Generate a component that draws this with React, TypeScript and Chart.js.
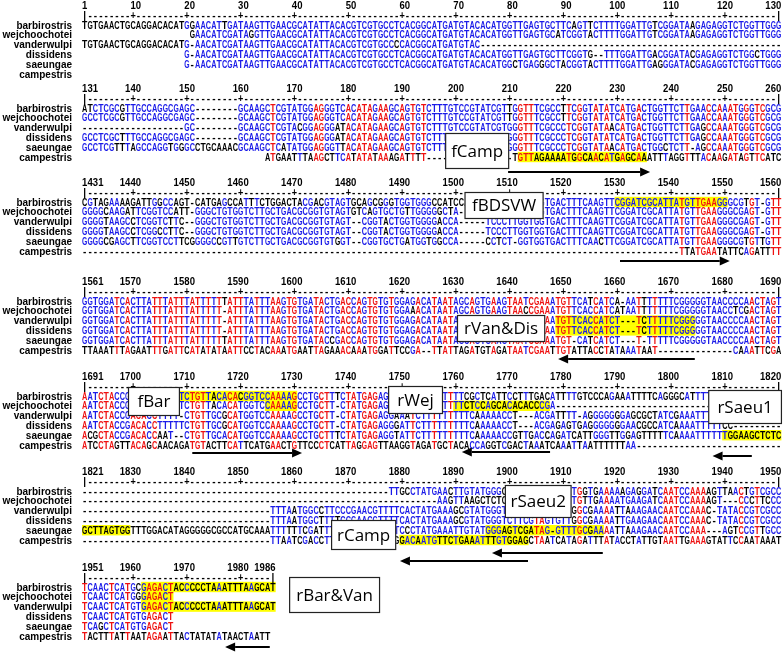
import React, { useEffect, useRef } from "react";
import { Chart, registerables } from "chart.js";

Chart.register(...registerables);

// ---------- DATA ----------
const D10 = "----------";
const E10 = "..........";

const SPECIES = ["barbirostris", "wejchoochotei", "vanderwulpi", "dissidens", "saeungae", "campestris"];

const B1_ROWS = [
  "TGTGAACTGCAGGACACATG" + "GAACATTGATAAGTTGAACGCATATTACACGTCGTGC" + "CTCACGGCATGATGTACACATGGTTGAGTGCTTCAGTTCTTTTGGATTGTCGGATAAGAGAGGTCTGGTTGGG",
  E10 + E10 + "GAACATCGATAGGTTGAACGCATATTACACGTCGTGC" + "CTCACGGCATGATGTACACATGGTTGAGTGCATCGGTACTTTTGGATTGTCGGATAAGAGAGGTCTGGTTGGG",
  "TGTGAACTGCAGGACACAT" + "G-AACATCGATAAGTTGAACGCATATTACACGTCGTGC" + "CCCACGGCATGATGTAC" + D10 + D10 + D10 + D10 + D10 + "------",
  E10 + "........." + "G-AACATCGATAAGTTGAACGCATATTACACGTCGTGC" + "CTCACGGCATGATGTACACATGGTTGAGTGCTTCGGTG--TTTGGATTGACGGATACGAGAGGTCTGGCTGGG",
  E10 + "........." + "G-AACATCGATAAGTTGAACGCATATTACACGTCGTGC" + "CTCACGGCATGATGTACACATGGCTGAGGGCTACGGTACTTTTGGATTGAGGGATACGAGAGGTCTGGTTGGG",
  "",
];

const B2_ROWS = [
  "ATCTCGCGTTGCCAGGCGAGC" + "--------" + "GCAAGCTCGTATGGAGGGTCACATAGAAGC" + "AGTGTCTTTGTCCGTATCGTTGGTTTCGCCTTCGGTATATCATGACTGGTTCTTGAACCAAATGGGTCGCG",
  "GCCTCGCGTTGCCAGGCGAGC" + "--------" + "GCAAGCTCGTATGGAGGGTCACATAGAAGC" + "AGTGTCTTTGTCCGTATCGTTGGTTTCGCCTTCGGTATATCATGACTGGTTCTTGAACCAAATGGGTCGCG",
  D10 + "---------" + "GC" + "--------" + "GCAAGCTCGTACGGAGGGATACATAGAAGC" + "AGTGTCTTTGTCCGTATCGTGGGTTTCGCCCTCGGTATAACATGACTGGTTCTTGAGCCAAATGGGTCGCG",
  "GCCTCGCTTTGCCAGGCGAGC" + "--------" + "GCAAGCTCGTATGGAGGGATACATAGAAGC" + "AGTGTCTTTGTCCGTATCGTGGGTTTCGCCCTCGGTATATCATGACTGGTTCTTGAGCCAAATGGGTCGCG",
  "GCCTCGTTTAGCCAGGTGGGCCTGCAAACGCAAGCTCATATGGAGGGTTACATAGAAGC" + "AGTGTCTTTGTCCGTATCGTGGGTTTCGCCCTCGGTATAACATGACTGGCTCTT-AGCCAAATGGGTCGCG",
  E10 + E10 + E10 + "...." + "ATGAATTTAAGCTTCATATATAAAG" + "ATTTT" + D10 + "------" + "TGTTAGAAAATGGCAACATGAGCAAATTTAGGTTTACAAGATAGTTCATC",
];

const B3_ROWS = [
  "CGTAGAAAAGATTGGCCAGT-CATGAGCCATTTCTGGACTACGACGTAGTGCAGCGG" + "GTGGTGGGCCATCCAATTTCGTTTGG" + "TGGTGACTTTCAAGT" + "TCGGATCGCATTATGTTGAAGGGCGTGT-GTT",
  "GGGGCAAGATTCGGTCCATT-GGGCTGTGGTCTTGCTGACGCGGTGTAGTGTCAGTG" + "CTGTTGGGGGCTA-----TCCCATGG" + "TGGTGACTTTCAAGT" + "TCGGATCGCATTATGTTGAAGGGCGAGT-GTT",
  "GGGGTAAGCCTCGGTCTTC--GGGCTGTGGTCTTGCTGACGCGGTGTAGT--CGGTA" + "CTGGTGGGGACCA-----TCCCTTGGTGGTGACTTTCAAGTTCGGATCGCATTATGTTGAAGGGCGAGT-GTT",
  "GGGGTAAGCCTCGGCCTTC--GGGCTGTGGTCTTGCTGACGCGGTGTAGT--CGGTA" + "CTGGTGGGGACCA-----TCCCTTGGTGGTGACTTTCAAGTTCGGATCGCATTATGTTGAAGGGCGAGT-GTT",
  "GGGGCGAGCTTCGGTCCTTCGGGGCCGTTGTCTTGCTGACGCGGTGTGGT--CGGTG" + "CTGATGGTGGCCA-----CCTCT-GGTGGTGACTTTCAACTTCGGATCGCATTATGTTGAAGGGCGTGTTGTT",
  D10 + D10 + D10 + D10 + D10 + D10 + D10 + D10 + D10 + D10 + D10 + "-" + "TTATGAATATTCAGATTTT",
];

const B4_ROWS = [
  "GGTGGATCACTTATTTATTTATTTTTTATTTATTTAAGTGTGATACTGACCAGTGTG" + "TGGAGACATAATAGCAGTGAAGTAATCGAAATGTTCATCATCA-AATTTTTTTCGGGGGTAACCCCAACTAGT",
  "GGTGGATCACTTATTTATTTATTTTT-ATTTATTTAAGTGTGATACTGACCAGTGTG" + "TGGAAACATAATAGCAGTGAAGTAACCGAAATGTTCACCATCATAATTTTTTTCGGGGGTAACCTCGACTAGT",
  "GGTGGATCACTTATTTATTTATTTTT-ATTTATTTAAGTGTGATACTGACCAGTGTG" + "TGGAGACATAAT" + "AGCAGTGAAGTAATCGA" + "AATGTTCACCATCT---TCTTTTTCGGGGGTAACCCCAACTAGT",
  "GGTGGATCACTTATTTATTTATTTTT-ATTTATTTAAGTGTGATACTGACCAGTGTG" + "TGGAGACATAAT" + "AGCAGTGAAGTAATCGA" + "AATGTTCACCATCT---TCTTTTTCGGGGGTAACCCCAACTAGT",
  "GGTGGATCACTTATTTATTTATTTTTTATTTATTTAAGTGTGATACCGACCAGTGTG" + "TGGAGACATAAT" + "AGCAGTGAAGTAATCGA" + "AATGT-CATCATCT---T-TTTTTCGGGGGTAACCCCAACTAGT",
  "TTAAATTTAGAATTTGATTCATATATAATTCCTACAAATGAATTAGAAACAAATGGA" + "TTCCGA--TTATTAGATGTAGATAATCGAATTGTATTACCTATAAATAAT" + D10 + "----" + "CAAATTCGA",
];

const B5_ROWS = [
  "AATCTACC" + "GACACCTTTT" + "TCTGTTACACACGGTCCAAAAGCCTGCTTTCTATGAGAG" + "GCATTCTTTT" + "TTTTCGCTCATTCCTTTGACATTTTGTCCCAGAAATTTTCAGGGCATTT" + "TTTTCTT-------",
  "AATCTACC" + "GACACCTTTT" + "TCTGTTACACATGGTCCAAAAGCCTGCTT-CTATGAGAG" + "GGATTCTTTT" + "TTTTCTCCAGCACACACCCGA" + D10 + D10 + D10 + D10 + "--",
  "AATCTACCGACACCTTTT-CTGTTGCGCATGGTCCAAAAGCCTGCTT-CTATGAGAG" + "GAAATCTTTTTTTTTCAAAAACCT---ACGATTTT-AGGGGGGGAGCGCTATCGAAATT" + "TTTTTC--------",
  "AATCTACCGACACCTTTTTCTGTTGCGCATGGTCCAAAAGCCTGCTT-CTATGAGAG" + "GGATTCTTTTTTTTTCAAAAACCT---ACGAGAGTGAGGGGGGGAACGCCATCAAAATTTTTCC---------",
  "ACGCTACCGACACCAAT--CTGTTGCACATGGTCCAAAAGCCTGCTTTCTATGAGAG" + "GTATTCTTTTTTTTTCAAAAACCGTTGACCAGATCATTGGGTTGGAGTTTTTCAAAATTTTTTGGAAGCTCTC",
  "ATCCTAGTTACAGCAACAGATGTACTTCATTCATGAACTGTTCCCTCATTAGGAGTT" + "AAGGTAGATGCTACACCAGGTCGACTAAATCAAATTAATTTTTTAA" + D10 + D10 + "-------",
];

const B6_ROWS = [
  D10 + D10 + D10 + D10 + D10 + "-------" + "TTGCCTATGAACTTGTATGGGCCCTCATATCCTATGGTGAAAAAGAGGATCAATCCAAAAGTTAACTGTCGCC",
  D10 + D10 + D10 + D10 + D10 + D10 + "------" + "AAGTTAAGCTCTC" + "GTTCGTAGTGT" + "TTGTTGAAAATGAAGATCAATCCAAAAGT---CCCTTCCC",
  D10 + D10 + D10 + "-----" + "TTTAATGGCCTTCCCGAACGTT" + "TTCACTATGAAAGCGTATGGGT" + "CTTCGTAGTGTTG" + "GCGAAAATTAAAGAACAATCCAAAC-TATACCGTCGCC",
  D10 + D10 + D10 + "-----" + "TTTAATGGCTTTTCCGAACGTT" + "TTCACTATGAAAGCGTATGGGTCTTCGTAGTGTTGGCGAAAATTGAAGAACAATCCAAAC-TATACCGTCGCC",
  "GCTTAGTGGTTTGGACATAGGGGGCGCCATGCAAATTTTTTCGATT" + "TCCCGAACGTT" + "TTCCCTATGAAATTGTATGGGAGTCGATAG-GTTTGCGAAAATTAAAGAACAATCCAAA---AGTCCGTTGCC",
  D10 + D10 + D10 + "-----" + "TTAATCGACCT" + "TCCCGAACGTTG" + "GGACAATGTTCTGAAATTTGTGGAGCTAATCATAGATTTATACCTATTGTAATTGAAAGTATTCCAATAAAT",
];

const B7_ROWS = [
  "TCAACTCATGCGAGACTACCCCCTAAATTTAAGCAT",
  "TCAACTCATGGGAGACT",
  "TCAACTCATGTGAGACTACCCCCTAAATTTAAGCAT",
  "TCAACTCATGTGAGACT",
  "TCAGCTCATGTGAGACT",
  "TACTTTATTAATAGAATTACTATATATAACTAATT",
];

const BLOCKS = [B1_ROWS, B2_ROWS, B3_ROWS, B4_ROWS, B5_ROWS, B6_ROWS, B7_ROWS];
const BLOCK_WIDTH = [130, 130, 130, 130, 130, 130, 36];

const TICK_LABELS = [
  [1, 10, 20, 30, 40, 50, 60, 70, 80, 90, 100, 110, 120, 130],
  [131, 140, 150, 160, 170, 180, 190, 200, 210, 220, 230, 240, 250, 260],
  [1431, 1440, 1450, 1460, 1470, 1480, 1490, 1500, 1510, 1520, 1530, 1540, 1550, 1560],
  [1561, 1570, 1580, 1590, 1600, 1610, 1620, 1630, 1640, 1650, 1660, 1670, 1680, 1690],
  [1691, 1700, 1710, 1720, 1730, 1740, 1750, 1760, 1770, 1780, 1790, 1800, 1810, 1820],
  [1821, 1830, 1840, 1850, 1860, 1870, 1880, 1890, 1900, 1910, 1920, 1930, 1940, 1950],
  [1951, 1960, 1970, 1980, 1986],
];

// primer highlights: block, row, first column, last column (block-relative)
const HIGHLIGHTS = [
  { block: 1, row: 5, from: 82, to: 105 },
  { block: 2, row: 0, from: 100, to: 120 },
  { block: 3, row: 2, from: 89, to: 114 },
  { block: 3, row: 3, from: 89, to: 114 },
  { block: 4, row: 0, from: 19, to: 40 },
  { block: 4, row: 1, from: 35, to: 40 },
  { block: 4, row: 1, from: 70, to: 87 },
  { block: 4, row: 4, from: 120, to: 130 },
  { block: 5, row: 4, from: 1, to: 9 },
  { block: 5, row: 4, from: 76, to: 97 },
  { block: 5, row: 5, from: 60, to: 83 },
  { block: 6, row: 0, from: 12, to: 36 },
  { block: 6, row: 1, from: 12, to: 17 },
  { block: 6, row: 2, from: 12, to: 36 },
];

const PRIMER_LABELS = ["fCamp", "fBDSVW", "rVan&Dis", "fBar", "rWej", "rSaeu1", "rSaeu2", "rCamp", "rBar&Van"];

// ---------- LAYOUT / STYLE ----------
const CANVAS_W = 784;
const CANVAS_H = 652;
const CELL_W = 5.38;
const COL1_X = 84.69;
const X_MIN = 1 - COL1_X / CELL_W;
const X_MAX = X_MIN + CANVAS_W / CELL_W;
const BLOCK_Y = [5, 88, 182, 281, 376, 471, 567];
const RULER_DY = 10;
const ROW0_DY = 20;
const ROW_PITCH = 9.8;
const NAME_RIGHT_X = 72;

const BOX_POS = [
  { x0: 68.0, x1: 79.9, y0: 133, y1: 169 },
  { x0: 71.6, x1: 86.3, y0: 192, y1: 219 },
  { x0: 70.2, x1: 86.6, y0: 315, y1: 342 },
  { x0: 9.05, x1: 18.7, y0: 387, y1: 416 },
  { x0: 57.4, x1: 67.6, y0: 386, y1: 414 },
  { x0: 116.9, x1: 130.6, y0: 390, y1: 424 },
  { x0: 79.1, x1: 91.5, y0: 485, y1: 518 },
  { x0: 46.8, x1: 58.9, y0: 520, y1: 550 },
  { x0: 39.0, x1: 55.9, y0: 577, y1: 613 },
];

const ARROWS = [
  { x0: 79.7, x1: 106.1, y: 172 },
  { x0: 100.5, x1: 120.9, y: 261 },
  { x0: 114.4, x1: 89.0, y: 359 },
  { x0: 21.0, x1: 41.4, y: 453 },
  { x0: 87.5, x1: 71.1, y: 452 },
  { x0: 125.0, x1: 117.7, y: 456 },
  { x0: 97.3, x1: 76.7, y: 553 },
  { x0: 83.4, x1: 59.6, y: 561 },
  { x0: 35.4, x1: 27.1, y: 647 },
];

const RED = "#ee1111";
const BLUE = "#1a1ae8";
const BLACK = "#000000";
const YELLOW = "#ffff00";
const SEQ_FONT = 'bold 10px "Liberation Sans"';
const SEQ_MAX_W = 5.3;
const NAME_FONT = 'bold 10px "Liberation Sans"';
const LABEL_FONT = '17px "Open Sans"';

function rowY(b: number, r: number) {
  return BLOCK_Y[b] + ROW0_DY + r * ROW_PITCH;
}

function blockColors(rows: string[], width: number): string[][] {
  const res: string[][] = rows.map(() => []);
  for (let c = 0; c < width; c++) {
    const counts: Record<string, number> = {};
    rows.forEach((r) => {
      const ch = r[c];
      if (ch && "ACGT".includes(ch)) counts[ch] = (counts[ch] || 0) + 1;
    });
    let best = "";
    let n = 0;
    for (const k in counts) if (counts[k] > n) { n = counts[k]; best = k; }
    const cls = n >= 6 ? RED : n >= 3 ? BLUE : BLACK;
    rows.forEach((r, i) => {
      res[i][c] = r[c] === best ? cls : BLACK;
    });
  }
  return res;
}

type Pt = { x: number; y: number; ch: string; color: string };

function buildLetterPoints(): Pt[] {
  const pts: Pt[] = [];
  BLOCKS.forEach((rows, b) => {
    const width = BLOCK_WIDTH[b];
    const colors = blockColors(rows, width);
    rows.forEach((r, i) => {
      for (let c = 0; c < Math.min(width, r.length); c++) {
        const ch = r[c];
        if (ch === "." || ch === " ") continue;
        pts.push({ x: c + 1, y: rowY(b, i), ch, color: colors[i][c] });
      }
    });
  });
  return pts;
}

function buildRulerPoints(): Pt[] {
  const pts: Pt[] = [];
  BLOCKS.forEach((_, b) => {
    const width = BLOCK_WIDTH[b];
    const labels = TICK_LABELS[b];
    const first = labels[0];
    const yR = BLOCK_Y[b] + RULER_DY;
    for (let c = 1; c <= width; c++) {
      const pos = first + c - 1;
      let ch = "-";
      if (c === 1 || c === width) ch = "|";
      else if (pos % 10 === 0) ch = "+";
      pts.push({ x: c, y: yR, ch, color: BLACK });
    }
    labels.forEach((n, k) => {
      const s = String(n);
      let lastCol: number;
      if (k === 0) lastCol = s.length;
      else if (k === labels.length - 1) lastCol = width;
      else lastCol = n - first + 2;
      for (let j = 0; j < s.length; j++) {
        pts.push({ x: lastCol - (s.length - 1) + j, y: BLOCK_Y[b], ch: s[j], color: BLACK });
      }
    });
  });
  return pts;
}

const alignmentPlugin = {
  id: "alignmentText",
  beforeDatasetsDraw(chart: any) {
    const ctx = chart.ctx;
    const xs = chart.scales.x;
    const ys = chart.scales.y;
    ctx.save();
    ctx.fillStyle = "#ffffff";
    ctx.fillRect(0, 0, chart.width, chart.height);
    ctx.fillStyle = YELLOW;
    HIGHLIGHTS.forEach((h) => {
      const yc = ys.getPixelForValue(rowY(h.block, h.row));
      const x0 = xs.getPixelForValue(h.from - 0.5);
      const x1 = xs.getPixelForValue(h.to + 0.5);
      ctx.fillRect(x0, yc - 5.2, x1 - x0, 10.4);
    });
    ctx.restore();
  },
  afterDatasetsDraw(chart: any) {
    const ctx = chart.ctx;
    const xs = chart.scales.x;
    const ys = chart.scales.y;
    ctx.save();
    ctx.font = SEQ_FONT;
    ctx.textAlign = "center";
    ctx.textBaseline = "alphabetic";
    chart.data.datasets.forEach((ds: any, di: number) => {
      const meta = chart.getDatasetMeta(di);
      meta.data.forEach((el: any, i: number) => {
        const p = ds.data[i] as Pt;
        ctx.fillStyle = p.color;
        ctx.fillText(p.ch, el.x, el.y + 3.6, SEQ_MAX_W);
      });
    });
    // species names
    ctx.font = NAME_FONT;
    ctx.textAlign = "right";
    ctx.fillStyle = BLACK;
    BLOCKS.forEach((_, b) => {
      SPECIES.forEach((name, i) => {
        ctx.fillText(name, NAME_RIGHT_X, ys.getPixelForValue(rowY(b, i)) + 3.6);
      });
    });
    // arrows
    ctx.strokeStyle = BLACK;
    ctx.fillStyle = BLACK;
    ctx.lineWidth = 2;
    ARROWS.forEach((a) => {
      const x0 = xs.getPixelForValue(a.x0);
      const x1 = xs.getPixelForValue(a.x1);
      const y = ys.getPixelForValue(a.y);
      const dir = x1 > x0 ? 1 : -1;
      const head = 10;
      ctx.beginPath();
      ctx.moveTo(x0, y);
      ctx.lineTo(x1 - dir * head, y);
      ctx.stroke();
      ctx.beginPath();
      ctx.moveTo(x1, y);
      ctx.lineTo(x1 - dir * head, y - 4.5);
      ctx.lineTo(x1 - dir * head, y + 4.5);
      ctx.closePath();
      ctx.fill();
    });
    // primer boxes
    PRIMER_LABELS.forEach((label, k) => {
      const bp = BOX_POS[k];
      const x0 = xs.getPixelForValue(bp.x0);
      const x1 = xs.getPixelForValue(bp.x1);
      const y0 = ys.getPixelForValue(bp.y0);
      const y1 = ys.getPixelForValue(bp.y1);
      ctx.fillStyle = "#ffffff";
      ctx.fillRect(x0, y0, x1 - x0, y1 - y0);
      ctx.strokeStyle = "#222222";
      ctx.lineWidth = 1.2;
      ctx.strokeRect(x0 + 0.5, y0 + 0.5, x1 - x0 - 1, y1 - y0 - 1);
      ctx.fillStyle = BLACK;
      ctx.font = LABEL_FONT;
      ctx.textAlign = "center";
      ctx.textBaseline = "middle";
      ctx.fillText(label, (x0 + x1) / 2, (y0 + y1) / 2 + 1);
    });
    ctx.restore();
  },
};

export default function App() {
  const ref = useRef<HTMLCanvasElement>(null);
  useEffect(() => {
    document.body.style.margin = "0";
    const canvas = ref.current;
    if (!canvas) return;
    const chart = new Chart(canvas, {
      type: "scatter",
      data: {
        datasets: [
          { data: buildLetterPoints() as any, pointRadius: 0, pointHoverRadius: 0 },
          { data: buildRulerPoints() as any, pointRadius: 0, pointHoverRadius: 0 },
        ],
      },
      options: {
        animation: false,
        responsive: false,
        devicePixelRatio: 1,
        events: [],
        layout: { padding: 0 },
        plugins: { legend: { display: false }, tooltip: { enabled: false } },
        scales: {
          x: { type: "linear", min: X_MIN, max: X_MAX, display: false },
          y: { type: "linear", min: 0, max: CANVAS_H, reverse: true, display: false },
        },
      },
      plugins: [alignmentPlugin],
    });
    return () => chart.destroy();
  }, []);
  return (
    <div style={{ width: CANVAS_W, height: CANVAS_H, background: "#fff" }}>
      <canvas ref={ref} width={CANVAS_W} height={CANVAS_H} style={{ display: "block" }} />
    </div>
  );
}
